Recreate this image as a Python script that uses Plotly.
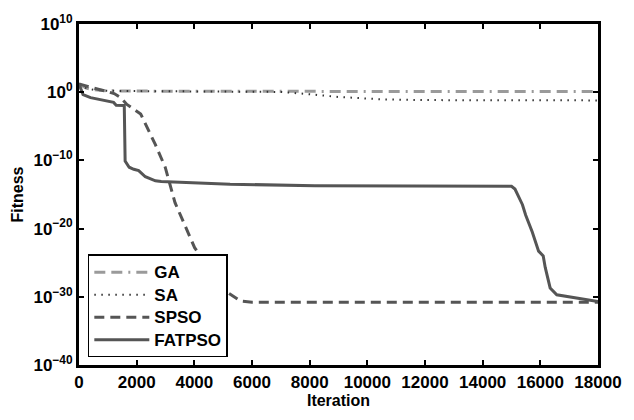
import plotly.graph_objects as go

# Convergence of the best fitness value per iteration for four optimisers

ga_iter = [0, 250, 500, 1000, 2000, 3000, 6000, 9000, 12000, 15000, 18000]
ga_fit = [16, 4.0, 2.3, 1.6, 1.45, 1.4, 1.3, 1.3, 1.25, 1.25, 1.25]

sa_iter = [0, 250, 500, 1000, 2000, 3000, 6000, 7000, 8000, 9000, 10500, 12000, 15000, 18000]
sa_fit = [16, 4.0, 2.3, 1.6, 1.45, 1.4, 1.3, 1.1, 0.5, 0.2, 0.09, 0.07, 0.065, 0.063]

spso_iter = [0, 600, 1220, 1450, 1660, 2140, 2400, 2650, 2990, 3330, 3670, 4010,
             4380, 4800, 5200, 5600, 6000, 18000]
spso_fit = [16, 3.2, 0.63, 0.16, 0.016, 6.3e-4, 3.2e-6, 2.0e-8, 1.0e-11, 6.3e-17,
            3.2e-20, 1.6e-23, 7.9e-26, 3.2e-28, 3.2e-30, 2.5e-31, 1.6e-31, 1.6e-31]

fatpso_iter = [0, 140, 400, 710, 1050, 1200, 1290, 1570, 1600, 1740, 1900, 2070, 2300,
               2650, 2850, 5240, 8180, 15000, 15120, 15380, 15490, 15720, 15940, 16100,
               16170, 16340, 16570, 17120, 18000]
fatpso_fit = [16, 0.45, 0.16, 0.089, 0.05, 0.032, 0.0126, 0.0112, 7.9e-11, 1.0e-11,
              5.0e-12, 3.2e-12, 4.0e-13, 1.0e-13, 7.9e-14, 3.2e-14, 2.0e-14, 1.6e-14,
              6.3e-15, 3.2e-17, 1.0e-18, 3.2e-21, 5.0e-24, 1.0e-24, 2.0e-26, 2.0e-29,
              2.0e-30, 7.9e-31, 2.0e-31]

y_tick_exp = [10, 0, -10, -20, -30, -40]
y_tick_text = ["10<sup>%s</sup>" % str(e).replace("-", "\u2212") for e in y_tick_exp]
y_tick_vals = [10.0 ** e for e in y_tick_exp]
x_ticks = [0, 2000, 4000, 6000, 8000, 10000, 12000, 14000, 16000, 18000]


def legend_name(label):
    # larger legend text while keeping the row spacing compact
    return "<span style='font-size:17px'>%s</span>" % label


fig = go.Figure()
fig.add_trace(go.Scatter(x=ga_iter, y=ga_fit, mode="lines", name=legend_name("GA"),
                         line=dict(color="#9a9a9a", width=3,
                                   dash="11px,6px,11px,6px,2px,6px")))
fig.add_trace(go.Scatter(x=sa_iter, y=sa_fit, mode="lines", name=legend_name("SA"),
                         line=dict(color="#333333", width=2, dash="1.5px,5.5px")))
fig.add_trace(go.Scatter(x=spso_iter, y=spso_fit, mode="lines", name=legend_name("SPSO"),
                         line=dict(color="#555555", width=3, dash="10px,6px")))
fig.add_trace(go.Scatter(x=fatpso_iter, y=fatpso_fit, mode="lines", name=legend_name("FATPSO"),
                         line=dict(color="#555555", width=3)))

axis_common = dict(
    showline=True, linecolor="black", linewidth=3, mirror="allticks",
    ticks="inside", ticklen=5, tickwidth=2, tickcolor="black",
    showgrid=False, zeroline=False,
    tickfont=dict(family="Liberation Sans", size=17, color="black", weight="bold"),
)

fig.update_layout(
    width=634, height=420,
    margin=dict(l=79, r=25, t=15, b=52),
    paper_bgcolor="white", plot_bgcolor="white",
    font=dict(family="Liberation Sans", color="black", weight="bold"),
    showlegend=True,
    legend=dict(
        x=0.017, y=0.022, xanchor="left", yanchor="bottom",
        bgcolor="white", bordercolor="black", borderwidth=1.5,
        font=dict(family="Liberation Sans", size=15, color="black", weight="bold"),
        itemwidth=55, tracegroupgap=0,
    ),
)
fig.update_xaxes(range=[0, 18000], tickvals=x_ticks, ticktext=[str(v) for v in x_ticks],
                 title=dict(text="Iteration", standoff=4,
                            font=dict(family="Liberation Sans", size=16, weight="bold")),
                 **axis_common)
fig.update_yaxes(type="log", range=[-40, 10], tickvals=y_tick_vals, ticktext=y_tick_text,
                 title=dict(text="Fitness", standoff=6,
                            font=dict(family="Liberation Sans", size=16, weight="bold")),
                 **axis_common)

fig.write_html("out.html")
